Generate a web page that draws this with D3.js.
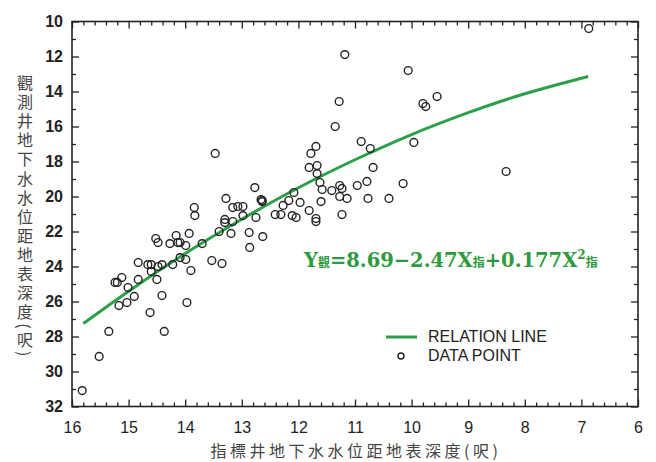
<!DOCTYPE html>
<html>
<head>
<meta charset="utf-8">
<script src="https://cdn.jsdelivr.net/npm/d3@7"></script>
<style>
body { margin: 0; background: #fff; }
</style>
</head>
<body>
<script>
// 指標井水位 (x) vs 觀測井水位 (y)
const indexDepth = [15.82, 15.52, 15.35, 14.37, 14.62, 13.97, 14.41, 15.17, 15.03, 14.90,
                    15.01, 15.24, 15.20, 15.12, 14.83, 14.50, 14.60, 14.83, 14.66, 14.60,
                    14.48, 14.41, 14.22, 14.09, 13.99, 13.90, 14.52, 14.48, 14.27, 14.16,
                    14.13, 14.09, 13.99, 13.93, 13.70, 13.84, 13.83, 13.53, 13.35, 13.40,
                    13.30, 13.30, 13.16, 13.19, 13.28, 13.16, 13.07, 12.98, 12.98, 12.75,
                    12.87, 12.86, 12.63, 12.64, 12.77, 12.66, 12.64, 13.47, 12.41, 12.31,
                    12.27, 12.17, 12.08, 12.11, 12.04, 11.97, 11.81, 11.69, 11.69, 11.23,
                    11.60, 11.58, 11.62, 11.67, 11.67, 11.81, 11.78, 11.69, 11.35, 11.28,
                    11.18, 11.41, 11.27, 11.23, 11.27, 11.14, 10.96, 10.79, 10.77, 10.68,
                    10.89, 10.73, 10.40, 10.15, 9.96, 10.06, 9.80, 9.75, 9.55, 8.33, 6.87];
const obsDepth = [31.09, 29.14, 27.71, 27.71, 26.63, 26.06, 25.66, 26.23, 26.06, 25.71,
                  25.20, 24.91, 24.91, 24.63, 24.74, 24.74, 24.29, 23.77, 23.89, 23.89,
                  24.00, 23.89, 23.89, 23.49, 23.60, 24.23, 22.40, 22.63, 22.69, 22.23,
                  22.63, 22.63, 22.80, 22.11, 22.69, 20.63, 21.09, 23.66, 23.83, 22.00,
                  21.31, 21.49, 21.43, 22.11, 20.11, 20.63, 20.57, 20.57, 21.09, 21.20,
                  22.06, 22.91, 22.29, 20.29, 19.49, 20.17, 20.23, 17.54, 21.03, 21.03,
                  20.51, 20.23, 19.77, 21.09, 21.20, 20.34, 20.80, 21.26, 21.43, 21.03,
                  20.29, 19.60, 19.20, 18.69, 18.23, 18.34, 17.54, 17.14, 16.00, 14.57,
                  11.89, 19.66, 19.37, 19.54, 20.00, 20.11, 19.37, 19.14, 20.11, 18.34,
                  16.86, 17.26, 20.11, 19.26, 16.91, 12.80, 14.69, 14.86, 14.29, 18.57, 10.40];

// relation line
const lineX = [15.8, 15, 14, 13, 12, 11, 10, 9, 8, 6.88];
const lineY = [27.26, 25.41, 23.26, 21.30, 19.50, 17.90, 16.46, 15.21, 14.13, 13.14];

const xTicks = [16, 15, 14, 13, 12, 11, 10, 9, 8, 7, 6];
const yTicks = [10, 12, 14, 16, 18, 20, 22, 24, 26, 28, 30, 32];

const plotL = 72, plotR = 638, plotT = 21.5, plotB = 406.5;

const svg = d3.select('body').append('svg')
              .attr('width', 656)
              .attr('height', 462);

const x = d3.scaleLinear().domain([16, 6]).range([plotL, plotR]);
const y = d3.scaleLinear().domain([10, 32]).range([plotT, plotB]);

const xMinor = d3.range(160, 59, -2).map(d => d / 10).filter(d => !xTicks.includes(d));
const yMinor = d3.range(11, 32, 2);

function tickAxis(axisFn, scale, values, size, transform) {
  const g = svg.append('g').attr('transform', transform)
               .call(axisFn(scale).tickValues(values).tickSize(-size).tickFormat(''));
  g.select('.domain').remove();
  g.selectAll('line').style('stroke', '#222').style('stroke-width', 1.3);
  return g;
}

tickAxis(d3.axisBottom, x, xTicks, 7, `translate(0,${plotB})`);
tickAxis(d3.axisBottom, x, xMinor, 4, `translate(0,${plotB})`);
tickAxis(d3.axisTop, x, xTicks, 7, `translate(0,${plotT})`);
tickAxis(d3.axisTop, x, xMinor, 4, `translate(0,${plotT})`);
tickAxis(d3.axisLeft, y, yTicks, 7, `translate(${plotL},0)`);
tickAxis(d3.axisLeft, y, yMinor, 4, `translate(${plotL},0)`);
tickAxis(d3.axisRight, y, yTicks, 7, `translate(${plotR},0)`);
tickAxis(d3.axisRight, y, yMinor, 4, `translate(${plotR},0)`);

svg.append('rect')
   .attr('x', plotL).attr('y', plotT).attr('width', plotR - plotL).attr('height', plotB - plotT)
   .style('fill', 'none').style('stroke', '#222').style('stroke-width', 1.6);

// tick labels
const xLab = svg.append('g').attr('transform', `translate(0,${plotB})`)
                .call(d3.axisBottom(x).tickValues(xTicks).tickSize(0).tickPadding(15));
xLab.select('.domain').remove();
xLab.selectAll('text').style('font-family', 'Liberation Sans, Arial, sans-serif')
    .style('font-size', '16px').style('fill', '#222');

const yLab = svg.append('g').attr('transform', `translate(${plotL},0)`)
                .call(d3.axisLeft(y).tickValues(yTicks).tickSize(0).tickPadding(9));
yLab.select('.domain').remove();
yLab.selectAll('text').style('font-family', 'Liberation Sans, Arial, sans-serif')
    .style('font-size', '16px').style('font-weight', 'bold').style('fill', '#222');

// axis titles
svg.append('text')
   .attr('x', 356).attr('y', 457)
   .attr('text-anchor', 'middle')
   .style('font-family', 'Noto Sans CJK TC, sans-serif').style('font-size', '16px')
   .style('letter-spacing', '3.5px').style('fill', '#444')
   .text('指標井地下水水位距地表深度(呎)');

svg.append('text')
   .attr('x', 25).attr('y', 75)
   .style('writing-mode', 'vertical-rl')
   .style('font-family', 'Noto Sans CJK TC, sans-serif').style('font-size', '16px')
   .style('letter-spacing', '3.1px').style('fill', '#444')
   .text('觀測井地下水水位距地表深度(呎)');

// relation line
const line = d3.line().x(d => x(d[0])).y(d => y(d[1])).curve(d3.curveNatural);
svg.append('path')
   .datum(lineX.map((d, i) => [d, lineY[i]]))
   .attr('d', line)
   .style('fill', 'none').style('stroke', '#2ca048').style('stroke-width', 3);

// data points
svg.append('g').selectAll('circle')
   .data(indexDepth.map((d, i) => [d, obsDepth[i]]))
   .join('circle')
   .attr('cx', d => x(d[0])).attr('cy', d => y(d[1])).attr('r', 3.9)
   .style('fill', 'none').style('stroke', '#222').style('stroke-width', 1.4);

// equation
const eq = svg.append('text')
              .attr('x', 304).attr('y', 267)
              .style('font-family', 'DejaVu Serif, serif').style('font-weight', 'bold')
              .style('font-size', '19.5px').style('fill', '#2e9a40');
const subSize = '12px', subFont = 'Noto Sans CJK TC, sans-serif';
eq.append('tspan').text('Y');
eq.append('tspan').style('font-size', subSize).style('font-family', subFont).text('觀');
eq.append('tspan').text('=8.69−2.47X');
eq.append('tspan').style('font-size', subSize).style('font-family', subFont).text('指');
eq.append('tspan').text('+0.177X');
eq.append('tspan').attr('dy', -8).style('font-size', '12px').text('2');
eq.append('tspan').attr('dy', 8).style('font-size', subSize).style('font-family', subFont).text('指');

// legend
const legend = svg.append('g');
legend.append('line')
      .attr('x1', 386).attr('x2', 417).attr('y1', 337).attr('y2', 337)
      .style('stroke', '#2ca048').style('stroke-width', 3);
legend.append('circle')
      .attr('cx', 401).attr('cy', 356).attr('r', 3)
      .style('fill', 'none').style('stroke', '#222').style('stroke-width', 1.4);
legend.append('text').attr('x', 428).attr('y', 342).text('RELATION LINE')
      .style('font-family', 'Liberation Sans, Arial, sans-serif').style('font-size', '16px').style('fill', '#222');
legend.append('text').attr('x', 428).attr('y', 361).text('DATA POINT')
      .style('font-family', 'Liberation Sans, Arial, sans-serif').style('font-size', '16px').style('fill', '#222');
</script>
</body>
</html>
